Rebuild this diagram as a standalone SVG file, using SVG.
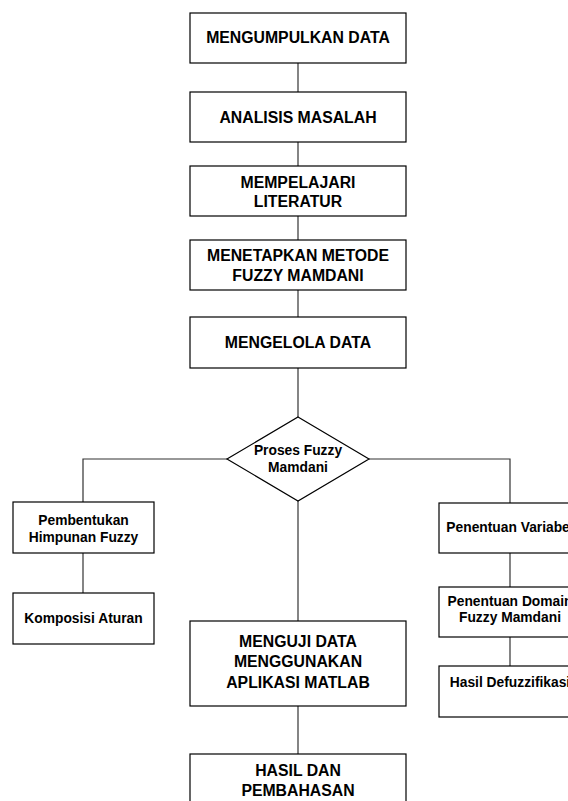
<svg xmlns="http://www.w3.org/2000/svg" width="568" height="801" viewBox="0 0 568 801">
<style>
.box{fill:#fff;stroke:#000;stroke-width:1.2}
.ln{fill:none;stroke:#333;stroke-width:1.2}
.big{font-family:"Liberation Sans",Arial,sans-serif;font-weight:bold;font-size:15.8px;fill:#000;text-anchor:middle}
.sm{font-family:"Liberation Sans",Arial,sans-serif;font-weight:bold;font-size:13.8px;fill:#000;text-anchor:middle}
</style>
<rect width="568" height="801" fill="#fff"/>
<g id="connectors">
<line class="ln" x1="298" y1="63" x2="298" y2="92"/>
<line class="ln" x1="298" y1="142" x2="298" y2="166"/>
<line class="ln" x1="298" y1="216" x2="298" y2="240"/>
<line class="ln" x1="298" y1="290" x2="298" y2="317"/>
<line class="ln" x1="298" y1="368" x2="298" y2="417"/>
<polyline class="ln" points="227,459 83,459 83,502"/>
<line class="ln" x1="83" y1="553" x2="83" y2="593"/>
<polyline class="ln" points="369,459 510,459 510,503"/>
<line class="ln" x1="510" y1="553" x2="510" y2="587"/>
<line class="ln" x1="510" y1="637" x2="510" y2="666"/>
<line class="ln" x1="298" y1="501" x2="298" y2="621"/>
<line class="ln" x1="298" y1="706" x2="298" y2="754"/>
</g>
<g id="n1"><rect class="box" x="190" y="13" width="216" height="50"/><text class="big" x="298" y="43">MENGUMPULKAN DATA</text></g>
<g id="n2"><rect class="box" x="190" y="92" width="216" height="50"/><text class="big" x="298" y="122.5">ANALISIS MASALAH</text></g>
<g id="n3"><rect class="box" x="190" y="166" width="216" height="50"/><text class="big" x="298" y="187.5">MEMPELAJARI</text><text class="big" x="298" y="206.5">LITERATUR</text></g>
<g id="n4"><rect class="box" x="190" y="240" width="216" height="50"/><text class="big" x="298" y="261">MENETAPKAN METODE</text><text class="big" x="298" y="281">FUZZY MAMDANI</text></g>
<g id="n5"><rect class="box" x="190" y="317" width="216" height="51"/><text class="big" x="298" y="348">MENGELOLA DATA</text></g>
<g id="n6"><polygon class="box" points="298,417 369,459 298,501 227,459"/><text class="sm" x="298" y="455">Proses Fuzzy</text><text class="sm" x="298" y="472">Mamdani</text></g>
<g id="n7"><rect class="box" x="13" y="502" width="141" height="51"/><text class="sm" x="83.5" y="524.5">Pembentukan</text><text class="sm" x="83.5" y="541.5">Himpunan Fuzzy</text></g>
<g id="n8"><rect class="box" x="13" y="593" width="141" height="51"/><text class="sm" x="83.5" y="623">Komposisi Aturan</text></g>
<g id="n9"><rect class="box" x="439" y="503" width="142" height="50"/><text class="sm" x="510" y="532">Penentuan Variabel</text></g>
<g id="n10"><rect class="box" x="439" y="587" width="142" height="50"/><text class="sm" x="510" y="606">Penentuan Domain</text><text class="sm" x="510" y="622">Fuzzy Mamdani</text></g>
<g id="n11"><rect class="box" x="439" y="666" width="142" height="51"/><text class="sm" x="510" y="687">Hasil Defuzzifikasi</text></g>
<g id="n12"><rect class="box" x="190" y="621" width="216" height="85"/><text class="big" x="298" y="647">MENGUJI DATA</text><text class="big" x="298" y="667">MENGGUNAKAN</text><text class="big" x="298" y="687.5">APLIKASI MATLAB</text></g>
<g id="n13"><rect class="box" x="190" y="754" width="216" height="60"/><text class="big" x="298" y="776">HASIL DAN</text><text class="big" x="298" y="796">PEMBAHASAN</text></g>
</svg>
